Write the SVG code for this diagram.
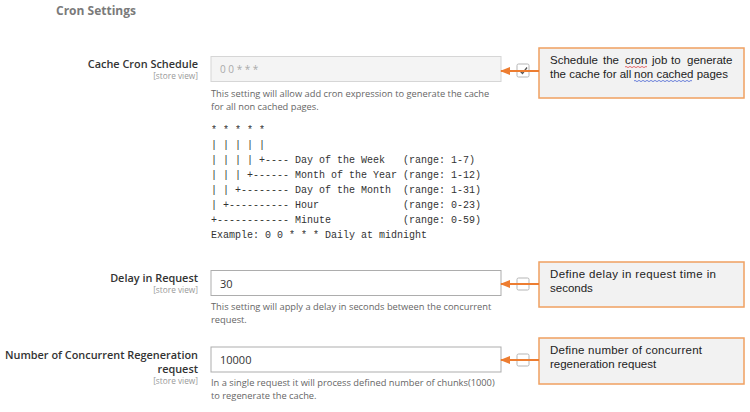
<svg xmlns="http://www.w3.org/2000/svg" width="750" height="412" viewBox="0 0 750 412">
<style>
.title{font-family:"Open Sans","Liberation Sans",sans-serif;font-weight:700;font-size:12px;fill:#7a7a7a}
.lbl{font-family:"Open Sans","Liberation Sans",sans-serif;font-weight:600;font-size:10.9px;fill:#333;text-anchor:end}
.scope{font-family:"Open Sans","Liberation Sans",sans-serif;font-size:8.3px;fill:#999;text-anchor:end}
.inp{fill:#fff;stroke:#adadad;stroke-width:1}
.inpd{fill:#f4f4f4;stroke:#d6d6d6;stroke-width:1}
.val{font-family:"Open Sans","Liberation Sans",sans-serif;font-size:11px;fill:#333}
.vald{font-family:"Open Sans","Liberation Sans",sans-serif;font-size:10px;fill:#aaa}
.note{font-family:"Open Sans","Liberation Sans",sans-serif;font-size:9.3px;fill:#666}
.mono{font-family:"Liberation Mono","DejaVu Sans Mono",monospace;font-size:10px;fill:#333;white-space:pre}
.chk{fill:#fff;stroke:#b5b5b5;stroke-width:1}
.call{fill:#f2f2f2;stroke:#f0a060;stroke-width:1.5}
.ct{font-family:"Liberation Sans",Arial,sans-serif;font-size:11.5px;fill:#222}
.con{stroke:#ed7d31;stroke-width:2;fill:none}
</style>
<defs>
<marker id="ah" markerWidth="10" markerHeight="8" refX="9" refY="4" orient="auto" markerUnits="userSpaceOnUse">
<path d="M0,0 L10,4 L0,8 Z" fill="#ed7d31"/>
</marker>
</defs>
<rect width="750" height="412" fill="#fff"/>
<text class="title" x="56" y="15">Cron Settings</text>

<g id="cache-cron-schedule">
<text class="lbl" x="198" y="68">Cache Cron Schedule</text>
<text class="scope" x="198" y="79">[store view]</text>
<rect class="inpd" x="211" y="56.5" width="290" height="25"/>
<text class="vald" x="220" y="73">0 0 * * *</text>
<rect class="chk" x="517" y="64" width="12" height="13" rx="1.5"/>
<path d="M519.5,70.5 L522.5,73.5 L527,67.5" stroke="#555" stroke-width="1.3" fill="none"/>
<text class="note" x="211" y="97">This setting will allow add cron expression to generate the cache</text>
<text class="note" x="211" y="110">for all non cached pages.</text>
</g>

<g id="cron-help">
<text class="mono" x="211" y="133" xml:space="preserve">* * * * *</text>
<text class="mono" x="211" y="148" xml:space="preserve">| | | | |</text>
<text class="mono" x="211" y="163" xml:space="preserve">| | | | +---- Day of the Week   (range: 1-7)</text>
<text class="mono" x="211" y="178" xml:space="preserve">| | | +------ Month of the Year (range: 1-12)</text>
<text class="mono" x="211" y="193" xml:space="preserve">| | +-------- Day of the Month  (range: 1-31)</text>
<text class="mono" x="211" y="208" xml:space="preserve">| +---------- Hour              (range: 0-23)</text>
<text class="mono" x="211" y="223" xml:space="preserve">+------------ Minute            (range: 0-59)</text>
<text class="mono" x="211" y="238" xml:space="preserve">Example: 0 0 * * * Daily at midnight</text>
</g>

<g id="delay-in-request">
<text class="lbl" x="198" y="282">Delay in Request</text>
<text class="scope" x="198" y="293">[store view]</text>
<rect class="inp" x="211" y="270.5" width="290" height="25"/>
<text class="val" x="220" y="288">30</text>
<rect class="chk" x="517" y="278" width="12" height="12" rx="1.5"/>
<text class="note" x="211" y="310">This setting will apply a delay in seconds between the concurrent</text>
<text class="note" x="211" y="323">request.</text>
</g>

<g id="concurrent-regeneration">
<text class="lbl" x="198" y="359">Number of Concurrent Regeneration</text>
<text class="lbl" x="198" y="373">request</text>
<text class="scope" x="198" y="384">[store view]</text>
<rect class="inp" x="211" y="347" width="290" height="25"/>
<text class="val" x="220" y="364">10000</text>
<rect class="chk" x="517" y="354" width="12" height="12" rx="1.5"/>
<text class="note" x="211" y="386">In a single request it will process defined number of chunks(1000)</text>
<text class="note" x="211" y="399">to regenerate the cache.</text>
</g>

<g id="callout-1">
<rect class="call" x="539" y="48" width="205" height="50"/>
<text class="ct" y="64"><tspan x="550">Schedule</tspan> <tspan x="603">the</tspan> <tspan x="625">cron</tspan> <tspan x="652">job</tspan> <tspan x="671">to</tspan> <tspan x="687">generate</tspan></text>
<text class="ct" x="550" y="78">the cache for all <tspan x="634">non cached</tspan> pages</text>
<path d="M625,67 q1,-1.2 2,0 t2,0 t2,0 t2,0 t2,0 t2,0 t2,0 t2,0 t2,0 t2,0 t2,0" stroke="#e03030" stroke-width="0.7" fill="none"/>
<path d="M634,81 q1,-1.2 2,0 t2,0 t2,0 t2,0 t2,0 t2,0 t2,0 t2,0 t2,0 t2,0 t2,0 t2,0 t2,0 t2,0 t2,0 t2,0 t2,0 t2,0 t2,0 t2,0 t2,0 t2,0 t2,0 t2,0 t2,0 t2,0 t2,0 t2,0 t2,0" stroke="#3050d0" stroke-width="0.7" fill="none"/>
</g>

<g id="callout-2">
<rect class="call" x="539" y="262" width="205" height="45"/>
<text class="ct" x="550" y="278" textLength="166" lengthAdjust="spacing">Define delay in request time in</text>
<text class="ct" x="550" y="292">seconds</text>
</g>

<g id="callout-3">
<rect class="call" x="539" y="338" width="205" height="46"/>
<text class="ct" x="550" y="354" textLength="152" lengthAdjust="spacing">Define number of concurrent</text>
<text class="ct" x="550" y="368">regeneration request</text>
</g>

<g id="connectors">
<line class="con" x1="539" y1="71" x2="501" y2="71" marker-end="url(#ah)"/>
<line class="con" x1="539" y1="284" x2="501" y2="284" marker-end="url(#ah)"/>
<line class="con" x1="539" y1="360" x2="501" y2="360" marker-end="url(#ah)"/>
</g>
</svg>
